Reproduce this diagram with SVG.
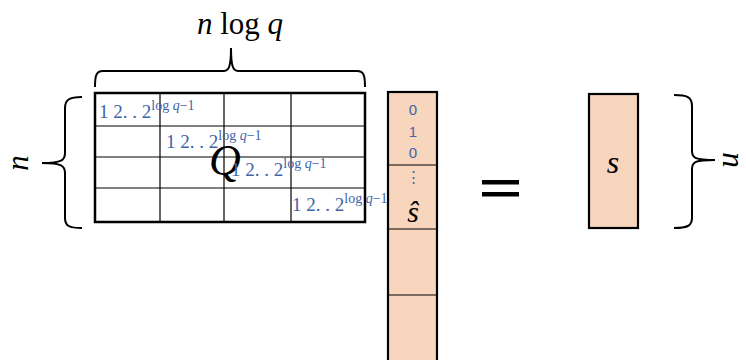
<svg xmlns="http://www.w3.org/2000/svg" width="746" height="360" viewBox="0 0 746 360">
<style>
.brace{fill:none;stroke:#000;stroke-width:2}
.grid{stroke:#000;stroke-width:1.2}
.outer{fill:#fff;stroke:#000;stroke-width:2.5}
.peach{fill:#F8D5BD;stroke:#000;stroke-width:2.2}
.math{font-family:"Liberation Serif","DejaVu Serif",serif;fill:#000}
.it{font-style:italic}
.lbl{font-family:"Liberation Serif","DejaVu Serif",serif;fill:#3F64A8;font-size:19px}
.sup{font-size:14px}
.dig{font-family:"Liberation Sans","Open Sans",sans-serif;fill:#3F64A8;font-size:15px;text-anchor:middle}
</style>
<rect width="746" height="360" fill="#fff"/>

<g id="braces">
<path class="brace" d="M95,87 C95,76 96,71 103,71 L224,71 C229,71 231,66 231,48 C231,66 233,71 238,71 L357,71 C364,71 365,76 365,87"/>
<path class="brace" d="M82,97 C69,97 65,100 65,108 L65,153 C65,160 62,163 42,163 C62,163 65,166 65,173 L65,218 C65,226 69,228 82,228"/>
<path class="brace" d="M674,95 C687,95 692,97 692,106 L692,151 C692,158 695,160 715,160 C695,160 692,162 692,169 L692,218 C692,226 687,228 674,228"/>
</g>

<g id="label-top">
<text class="math" x="240" y="34" font-size="31" text-anchor="middle"><tspan class="it">n</tspan> log <tspan class="it">q</tspan></text>
</g>
<g id="label-left">
<text class="math it" font-size="31" text-anchor="middle" transform="translate(28,163) rotate(-90)">n</text>
</g>
<g id="label-right">
<text class="math it" font-size="31" text-anchor="middle" transform="translate(723,160) rotate(90)">n</text>
</g>

<g id="matrix-Q">
<rect class="outer" x="95" y="93" width="270" height="129"/>
<line class="grid" x1="160" y1="93" x2="160" y2="222"/>
<line class="grid" x1="224" y1="93" x2="224" y2="222"/>
<line class="grid" x1="291" y1="93" x2="291" y2="222"/>
<line class="grid" x1="95" y1="126" x2="365" y2="126"/>
<line class="grid" x1="95" y1="157" x2="365" y2="157"/>
<line class="grid" x1="95" y1="188" x2="365" y2="188"/>
<text class="math it" x="225" y="175" font-size="44" text-anchor="middle">Q</text>
<text class="lbl" x="99" y="118">1 2. . 2<tspan class="sup" dy="-8">log <tspan font-style="italic">q</tspan>−1</tspan></text>
<text class="lbl" x="166" y="148">1 2. . 2<tspan class="sup" dy="-8">log <tspan font-style="italic">q</tspan>−1</tspan></text>
<text class="lbl" x="231" y="176">1 2. . 2<tspan class="sup" dy="-8">log <tspan font-style="italic">q</tspan>−1</tspan></text>
<text class="lbl" x="292" y="211">1 2. . 2<tspan class="sup" dy="-8">log <tspan font-style="italic">q</tspan>−1</tspan></text>
</g>

<g id="vector-s-hat">
<rect class="peach" x="388" y="92" width="49" height="275"/>
<line class="grid" x1="388" y1="165" x2="437" y2="165"/>
<line class="grid" x1="388" y1="229" x2="438" y2="229"/>
<line class="grid" x1="388" y1="295" x2="438" y2="295"/>
<text class="dig" x="413" y="115">0</text>
<text class="dig" x="413" y="137">1</text>
<text class="dig" x="413" y="158">0</text>
<text class="dig" x="413" y="182" font-size="13">⋮</text>
<text class="math it" x="413" y="222" font-size="30" text-anchor="middle">ŝ</text>
</g>

<g id="equals">
<rect x="482" y="180" width="37" height="4.5" fill="#000"/>
<rect x="482" y="192" width="37" height="4.5" fill="#000"/>
</g>

<g id="vector-s">
<rect class="peach" x="589" y="94" width="49" height="134"/>
<text class="math it" x="613" y="173" font-size="32" text-anchor="middle">s</text>
</g>
</svg>
